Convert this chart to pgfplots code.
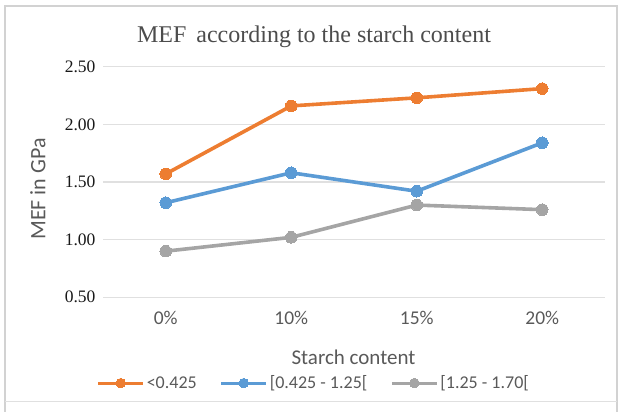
\documentclass[border=0pt]{standalone}
\usepackage{fontspec}
\setmainfont{Liberation Serif}
\newfontfamily\calfont{Carlito}
\usepackage{pgfplots}
\pgfplotsset{compat=1.18}
\definecolor{cOrange}{HTML}{ED7D31}
\definecolor{cBlue}{HTML}{5B9BD5}
\definecolor{cGray}{HTML}{A5A5A5}
\definecolor{cText}{HTML}{595959}
\definecolor{cGrid}{HTML}{E0E0E0}
\newcommand{\lb}{\char91\relax}
\begin{document}
\begin{tikzpicture}[x=1pt,y=1pt]
\useasboundingbox (0,0) rectangle (621,412);
\draw[cGrid!85!gray, line width=1.2pt] (5,-5) -- (5,406) -- (617,406) -- (617,-5);
\draw[cGrid, line width=1pt] (5,10) -- (617,10);
\begin{axis}[
  at={(103pt,114.7pt)}, anchor=south west,
  width=502pt, height=230.6pt, scale only axis,
  xmin=-0.5, xmax=3.5, ymin=0.5, ymax=2.5,
  xtick={0,1,2,3}, xticklabels={0\%,10\%,15\%,20\%},
  ytick={0.5,1,1.5,2,2.5},
  yticklabel={\pgfmathprintnumber[fixed,zerofill,precision=2,assume math mode=true]{\tick}},
  yticklabel style={font=\rmfamily\fontsize{17.5}{17.5}\selectfont, text=black!90},
  xticklabel style={font=\calfont\fontsize{19.5}{19.5}\selectfont, text=cText},
  axis line style={draw=none}, major tick length=0pt,
  ymajorgrids, grid style={cGrid, line width=1.2pt},
  xticklabel shift=10pt, yticklabel shift=4pt,
  clip=false,
  legend style={at={(axis description cs:0.42,-0.372)}, anchor=center,
    draw=none, fill=none, legend columns=-1,
    font=\calfont\fontsize{18}{18}\selectfont, text=cText,
    /tikz/every even column/.append style={column sep=21pt},
    inner sep=0pt},
  legend image code/.code={\draw[line width=3pt, mark size=4.8pt, mark repeat=2,mark phase=2] plot coordinates {(0pt,0pt) (22.5pt,0pt) (45pt,0pt)};},
  every axis plot/.append style={line width=3.6pt, mark=*, mark size=5.8pt},
]
\addplot[cOrange, mark options={fill=cOrange, draw=cOrange, line width=0pt}] coordinates {(0,1.57) (1,2.16) (2,2.23) (3,2.31)};
\addlegendentry{<0.425}
\addplot[cBlue, mark options={fill=cBlue, draw=cBlue, line width=0pt}] coordinates {(0,1.32) (1,1.58) (2,1.42) (3,1.84)};
\addlegendentry{\lb 0.425 - 1.25\lb}
\addplot[cGray, mark options={fill=cGray, draw=cGray, line width=0pt}] coordinates {(0,0.90) (1,1.02) (2,1.30) (3,1.26)};
\addlegendentry{\lb 1.25 - 1.70\lb}
\end{axis}
\node[text=black!70, font=\fontsize{24}{24}\selectfont] at (314,375) {MEF\, according to the starch content};
\node[text=cText, font=\calfont\fontsize{22}{22}\selectfont, rotate=90] at (38,223) {MEF in GPa};
\node[text=cText, font=\calfont\fontsize{21}{21}\selectfont] at (353.5,55) {Starch content};
\end{tikzpicture}
\end{document}
